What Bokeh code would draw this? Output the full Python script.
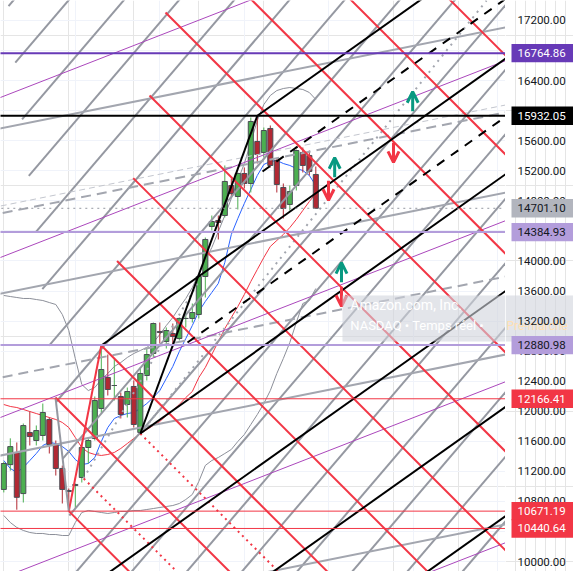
from bokeh.plotting import figure
from bokeh.layouts import row
from bokeh.models import (Range1d, FixedTicker, Label, Grid, BoxAnnotation, Arrow, OpenHead,
                          ColumnDataSource)
from bokeh.core.properties import value
from bokeh.embed import file_html
from bokeh.resources import INLINE

# ---------------- data ----------------
bars = list(range(49))
opens = [10960, 11290, 11450, 10905, 11718, 11611, 11678, 11890, 11558, 11239, 10946, 11012, 11119, 11518,
         11638, 12037, 12450, 12343, 12197, 12090, 12330, 11718, 12476, 12769, 13062, 12928, 13035, 12968,
         13235, 13235, 13288, 13793, 14459, 14539, 14605, 15004, 14858, 15164, 15031, 15590, 15444, 15763,
         15337, 14978, 14752, 15004, 15444, 15404, 15151]
highs = [11330, 11640, 11585, 11837, 11997, 11811, 12103, 11917, 11611, 11278, 10972, 11039, 11545, 11651,
         12197, 12875, 12755, 12702, 12250, 12316, 12410, 12583, 12835, 13181, 13181, 13115, 13168, 13248,
         13314, 13434, 13820, 14312, 14605, 14605, 15271, 15098, 15177, 15244, 15909, 15932.05, 15776, 15803,
         15364, 15031, 15004, 15483, 15510, 15470, 15257]
lows = [10920, 11210, 10690, 10786, 11545, 11545, 11611, 11438, 11145, 10773, 10671.19, 10706, 11052, 11305,
        11611, 11970, 12210, 12143, 11904, 11917, 11784, 11704, 12410, 12716, 12902, 12835, 12849, 12942,
        13115, 13181, 13235, 13514, 14406, 14286, 14579, 14845, 14685, 14965, 14911, 15297, 15377, 15244,
        14911, 14565, 14671, 14938, 15177, 15138, 14698]
closes = [11305, 11530, 10855, 11810, 11664, 11744, 11984, 11558, 11239, 10960, 10932, 11026, 11518, 11611,
          12143, 12556, 12290, 12343, 11957, 12263, 11824, 12503, 12755, 13168, 13048, 13075, 12995, 13235,
          13235, 13314, 13793, 14286, 14525, 14512, 15058, 14898, 15164, 15031, 15856, 15417, 15736, 15271,
          15018, 14698, 14925, 15470, 15271, 15191, 14701.10]

ma_fast = [11345, 11239, 11186, 11252, 11345, 11438, 11545, 11585, 11571, 11531, 11465, 11358, 11292, 11305,
           11385, 11598, 11784, 11904, 11944, 11970, 11984, 12037, 12103, 12183, 12276, 12436, 12596, 12795,
           12968, 13141, 13328, 13461, 13581, 13701, 13980, 14352, 14565, 14765, 14951, 15138, 15284, 15324,
           15337, 15297, 15271, 15231, 15204, 15138, 15004]
ma_slow = [12090, 12064, 12050, 12024, 11997, 11970, 11944, 11917, 11891, 11851, 11784, 11651, 11518, 11452,
           11425, 11412, 11425, 11452, 11505, 11571, 11638, 11704, 11757, 11811, 11864, 11944, 12010, 12090,
           12183, 12263, 12449, 12583, 12756, 12928, 13101, 13248, 13394, 13554, 13727, 13887, 14046, 14193,
           14273, 14352, 14445, 14552, 14672, 14791, 14898]
band_upper = [13541, 13527, 13514, 13501, 13501, 13487, 13474, 13447, 13421, 13288, 13075, 12702, 12356, 12276,
              12316, 12423, 12503, 12596, 12649, 12716, 12769, 12809, 12849, 12915, 13022, 13141, 13248, 13381,
              13501, 13647, 13833, 14006, 14179, 14392, 14605, 14831, 15071, 15297, 15577, 15869, 16082, 16202,
              16268, 16295, 16308, 16295, 16282, 16242, 16149]
band_lower = [10613, 10520, 10454, 10414, 10387, 10374, 10374, 10360, 10360, 10347, 10347, 10520, 10653, 10680,
              10667, 10653, 10640, 10653, 10667, 10667, 10680, 10680, 10693, 10706, 10720, 10733, 10746, 10773,
              10826, 10893, 11066, 11279, 11345, 11385, 11438, 11492, 11598, 11691, 11824, 11957, 12103, 12276,
              12503, 12702, 12915, 13181, 13434, 13474, 13634]

# drawings: start points (bar, price) and slopes (price per bar)
red_fan_starts = [(32.42, 20607), (29.95, 19502), (27.34, 18407), (24.88, 17306), (22.42, 16202),
                  (19.91, 15102), (17.42, 14000), (15, 12875), (7.95, 12183), (10, 10671.19)]
red_dotted_starts = [(12.3, 11105), (21, 11704)]
red_fan_slope = -86.5
gray_fan_at_bar0 = [17318, 16460, 15601, 14743, 13885, 13026, 12168, 11310, 10451, 9593, 8735, 7876,
                    7018, 6160, 5301, 4443, 3585, 2726, 1868]
gray_fan_slope = 101.2
gray_fan_edge = [(0.72, 17400), (10, 10671.19)]
black_fan_starts = [(39, 15932.05), (15, 12875), (21, 11704), (10.4, 9500), (35.5, 9500), (59.2, 9500)]
black_dashed_starts = [(39.8, 15191), (28.26, 12915)]
black_fan_slope = 61.4
pivot_black = [(21, 11704), (39, 15932.05)]
pivot_red = [(10, 10671.19), (15, 12875)]
pivot_gray = [(7.95, 12183), (10, 10671.19)]
gray_dotted = [[(12.26, 11105), (29.8, 13700)], [(21, 11704), (74.26, 17466)]]
gray_level_at_bar0 = [15772, 13575, 11420, 9159]
gray_dashed_at_bar0 = [14641, 12457]
gray_thin_dashed_at_bar0 = [14740]
gray_level_slope = 17.3
purple_at_bar0 = [16193, 14064, 11935, 9792, 7650]
purple_slope = 33.7
arrows_up = [(62.9, 16122), (50.9, 15244), (51.95, 13847)]
arrows_down = [(59.95, 15443), (49.95, 14938), (51.95, 13527)]

levels = [16764.86, 15932.05, 14701.10, 14384.93, 12880.98, 12166.41, 10671.19, 10440.64]
level_colors = ["#673ab7", "#000000", "#9598a1", "#b39ddb", "#b39ddb", "#f23645", "#f23645", "#f23645"]
label_colors = ["#673ab7", "#000000", "#b2b5be", "#b39ddb", "#b39ddb", "#f23645", "#f23645", "#f23645"]
level_text_colors = ["white", "white", "#131722", "#131722", "#131722", "white", "white", "white"]
level_widths = [2, 2, 1, 2, 2, 1, 1, 1]
level_dash = ["solid", "solid", "dotted", "solid", "solid", "solid", "solid", "solid"]
price_ticks = list(range(10000, 17600, 400))
time_grid = [11, 24, 37, 50, 63, 76]
legend_box = (52.1, 12928, 13541)  # left bar, bottom price, top price

X_END = 100
X_START = -5

# ---------------- main pane ----------------
yr = Range1d(9868, 17466)
p = figure(width=505, height=571, x_range=Range1d(-0.508, 77.18), y_range=yr,
           output_backend="svg", toolbar_location=None, x_axis_location=None, y_axis_location=None,
           min_border_left=0, min_border_top=0, min_border_bottom=0, min_border_right=0)
p.outline_line_color = None
p.add_layout(Grid(dimension=1, ticker=FixedTicker(ticks=price_ticks), grid_line_color="#f0f3fa"))
p.add_layout(Grid(dimension=0, ticker=FixedTicker(ticks=time_grid), grid_line_color="#f0f3fa"))

# indicators
p.line(bars, band_upper, line_color="#8c8f99", line_width=1)
p.line(bars, band_lower, line_color="#8c8f99", line_width=1)
p.line(bars, ma_slow, line_color="#f23645", line_width=1)
p.line(bars, ma_fast, line_color="#2962ff", line_width=1)

# candles
up = [c >= o for o, c in zip(opens, closes)]
src = ColumnDataSource(dict(
    x=bars, top=[max(o, c) for o, c in zip(opens, closes)], bottom=[min(o, c) for o, c in zip(opens, closes)],
    high=highs, low=lows,
    body=["#4caf50" if u else "#b22833" for u in up]))
p.segment(x0="x", y0="low", x1="x", y1="high", line_color="body", line_width=1, source=src)
p.vbar(x="x", top="top", bottom="bottom", width=0.78, fill_color="body", line_color="#4a4d55",
       line_width=1, source=src)


def ray(start, slope, xend=X_END):
    b0, p0 = start
    return [b0, xend], [p0, p0 + slope * (xend - b0)]


def full(at0, slope):
    return [X_START, X_END], [at0 + slope * X_START, at0 + slope * X_END]


# gray steep fan (starting on its left edge)
(eb0, ep0), (eb1, ep1) = gray_fan_edge
em = (ep1 - ep0) / (eb1 - eb0)
gx, gy = [], []
for a in gray_fan_at_bar0:
    b = (ep0 - em * eb0 - a) / (gray_fan_slope - em)
    gx.append([b, X_END]); gy.append([a + gray_fan_slope * b, a + gray_fan_slope * X_END])
p.multi_line(gx, gy, line_color="#9598a1", line_width=2)

xs, ys = zip(*[full(a, gray_level_slope) for a in gray_level_at_bar0])
p.multi_line(list(xs), list(ys), line_color="#a3a6af", line_width=2)
xs, ys = zip(*[full(a, gray_level_slope) for a in gray_dashed_at_bar0])
p.multi_line(list(xs), list(ys), line_color="#a3a6af", line_width=2, line_dash="10 6")
xs, ys = zip(*[full(a, gray_level_slope) for a in gray_thin_dashed_at_bar0])
p.multi_line(list(xs), list(ys), line_color="#c3c6ce", line_width=1, line_dash="6 4")

p.multi_line([[a[0], b[0]] for a, b in gray_dotted], [[a[1], b[1]] for a, b in gray_dotted],
             line_color="#a3a6af", line_width=2, line_dash="2 5")

xs, ys = zip(*[full(a, purple_slope) for a in purple_at_bar0])
p.multi_line(list(xs), list(ys), line_color="#ab47bc", line_width=1)

xs, ys = zip(*[ray(s, red_fan_slope) for s in red_fan_starts])
p.multi_line(list(xs), list(ys), line_color="#f23645", line_width=2)
xs, ys = zip(*[ray(s, red_fan_slope) for s in red_dotted_starts])
p.multi_line(list(xs), list(ys), line_color="#f23645", line_width=2, line_dash="2 4")

xs, ys = zip(*[ray(s, black_fan_slope) for s in black_fan_starts])
p.multi_line(list(xs), list(ys), line_color="#000000", line_width=2)
xs, ys = zip(*[ray(s, black_fan_slope) for s in black_dashed_starts])
p.multi_line(list(xs), list(ys), line_color="#000000", line_width=2, line_dash="9 8")

for seg, col in [(pivot_black, "#000000"), (pivot_red, "#f23645"), (pivot_gray, "#9598a1")]:
    p.line([seg[0][0], seg[1][0]], [seg[0][1], seg[1][1]], line_color=col, line_width=2)

for lv, col, w, d in zip(levels, level_colors, level_widths, level_dash):
    p.line([X_START, X_END], [lv, lv], line_color=col, line_width=w, line_dash=d)

for b, pr in arrows_up:
    p.add_layout(Arrow(x_start=b, y_start=pr - 130, x_end=b, y_end=pr + 130, line_color="#089981",
                       line_width=3, end=OpenHead(size=11, line_color="#089981", line_width=3)))
for b, pr in arrows_down:
    p.add_layout(Arrow(x_start=b, y_start=pr + 130, x_end=b, y_end=pr - 130, line_color="#f23645",
                       line_width=3, end=OpenHead(size=11, line_color="#f23645", line_width=3)))

# symbol legend box
p.add_layout(BoxAnnotation(left=legend_box[0], bottom=legend_box[1], top=legend_box[2],
                           fill_color="#d1d4dc", fill_alpha=0.6, line_color=None))
p.add_layout(Label(x=53.3, y=13314, text="Amazon.com, Inc.", text_color="white", text_font="Roboto",
                   text_font_size="14px"))
p.add_layout(Label(x=53.3, y=13035, text="NASDAQ  •  Temps réel  •", text_color="white", text_font="Roboto",
                   text_font_size="13px"))

# ---------------- price scale pane ----------------
s = figure(width=68, height=571, x_range=Range1d(0, 68), y_range=yr, output_backend="svg",
           toolbar_location=None, x_axis_location=None, y_axis_location=None,
           min_border_left=0, min_border_top=0, min_border_bottom=0, min_border_right=0)
s.outline_line_color = None
s.quad(left=0, right=68, bottom=legend_box[1], top=legend_box[2], fill_color="#d1d4dc", fill_alpha=0.6,
       line_color=None)
s.text(x=[1], y=[13035], text=["Pré-marché"], text_color="#ffe0b2", text_font=value("Roboto"),
       text_font_size="12px")
s.text(x=[12] * len(price_ticks), y=price_ticks, text=[f"{t:.2f}" for t in price_ticks],
       text_color="#131722", text_font=value("Roboto"), text_font_size="11.5px", text_baseline="middle")
s.quad(left=6, right=68, bottom=[lv - 122 for lv in levels], top=[lv + 122 for lv in levels],
       fill_color=label_colors, line_color=None)
s.text(x=[12] * len(levels), y=levels, text=[f"{lv:.2f}" for lv in levels], text_color=level_text_colors,
       text_font=value("Roboto"), text_font_size="11.5px", text_baseline="middle")

layout = row(p, s)
open("out.html", "w").write(file_html(layout, INLINE))
